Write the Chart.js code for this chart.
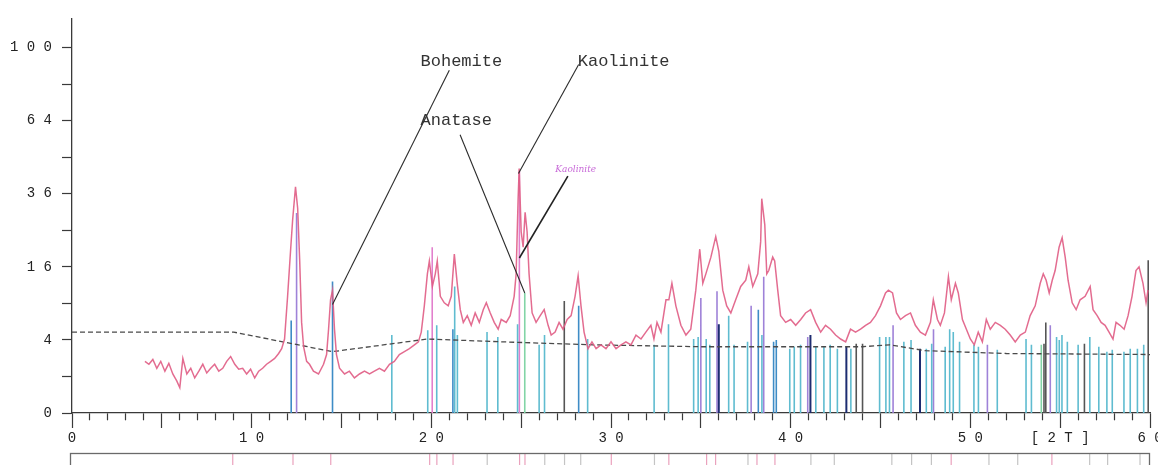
<!DOCTYPE html>
<html>
<head>
<meta charset="utf-8">
<script src="https://cdn.jsdelivr.net/npm/chart.js@4.4.1/dist/chart.umd.min.js"></script>
<style>
  html, body { margin: 0; padding: 0; background: #fff; overflow: hidden; }
  #wrap { position: relative; width: 1158px; height: 465px; overflow: hidden; background: #fff; }
  #main { position: absolute; left: 0; top: 0; }
  #strip { position: absolute; left: 0; top: 452px; }
</style>
</head>
<body>
<div id="wrap">
  <canvas id="main" width="1172" height="465"></canvas>
  <canvas id="strip" width="1172" height="40"></canvas>
</div>
<script>
// measured scan (2theta, intensity)
const scan2T = [
  4.06,4.28,4.5,4.72,4.94,5.17,5.39,5.61,5.83,6.0,
  6.17,6.39,6.61,6.83,7.06,7.28,7.5,7.72,7.94,8.17,
  8.39,8.61,8.83,9.06,9.28,9.5,9.72,9.94,10.17,10.39,
  10.61,10.83,11.06,11.28,11.5,11.67,11.83,12.0,12.17,12.28,
  12.44,12.56,12.67,12.78,12.89,13.06,13.22,13.44,13.72,14.0,
  14.17,14.28,14.39,14.5,14.61,14.72,14.89,15.17,15.44,15.72,
  16.0,16.28,16.56,16.83,17.11,17.39,17.67,17.94,18.22,18.5,
  18.78,19.06,19.28,19.44,19.61,19.78,19.89,20.06,20.22,20.33,
  20.5,20.72,20.94,21.11,21.28,21.44,21.61,21.78,22.0,22.22,
  22.44,22.67,22.89,23.06,23.28,23.5,23.72,23.89,24.17,24.39,
  24.61,24.72,24.83,24.89,25.0,25.11,25.22,25.33,25.44,25.61,
  25.83,26.06,26.28,26.5,26.67,26.89,27.11,27.33,27.56,27.78,
  28.0,28.17,28.33,28.5,28.72,28.94,29.17,29.44,29.72,30.0,
  30.28,30.56,30.83,31.11,31.39,31.67,31.94,32.22,32.39,32.56,
  32.78,33.06,33.22,33.39,33.61,33.89,34.17,34.44,34.72,34.94,
  35.11,35.28,35.56,35.83,36.0,36.22,36.44,36.67,36.94,37.22,
  37.5,37.67,37.89,38.17,38.33,38.39,38.56,38.67,38.78,39.0,
  39.11,39.28,39.44,39.72,40.0,40.28,40.56,40.83,41.11,41.39,
  41.67,41.94,42.22,42.5,42.78,43.06,43.33,43.61,43.89,44.17,
  44.44,44.72,45.0,45.28,45.44,45.67,45.89,46.11,46.39,46.67,
  46.94,47.22,47.5,47.78,47.94,48.17,48.33,48.56,48.78,48.94,
  49.17,49.33,49.56,49.78,50.0,50.22,50.44,50.67,50.89,51.11,
  51.39,51.67,51.94,52.22,52.5,52.78,53.06,53.33,53.61,53.89,
  54.06,54.22,54.39,54.56,54.72,54.94,55.11,55.28,55.44,55.67,
  55.89,56.11,56.39,56.67,56.83,57.06,57.28,57.5,57.72,57.94,
  58.11,58.33,58.56,58.78,59.0,59.22,59.39,59.61,59.78,59.89
];
const scanI = [
  2.0,1.78,2.15,1.5,2.0,1.31,1.85,1.14,0.77,0.48,
  2.23,1.14,1.5,0.92,1.31,1.78,1.2,1.5,1.78,1.31,
  1.5,2.0,2.39,1.78,1.44,1.5,1.14,1.44,0.92,1.31,
  1.5,1.78,2.0,2.23,2.65,3.1,4.1,10.2,20.1,27.9,
  38.3,31.4,17.8,6.15,3.29,2.0,1.78,1.31,1.14,1.78,
  2.56,5.26,9.6,11.3,5.26,2.56,1.5,1.14,1.31,0.92,
  1.14,1.31,1.14,1.31,1.5,1.31,1.78,2.0,2.56,2.82,
  3.1,3.48,3.79,4.9,8.6,14.5,17.3,12.0,14.5,17.3,
  10.2,9.1,8.6,10.2,18.9,12.6,8.0,6.15,7.1,5.76,
  7.5,6.15,8.0,9.1,7.5,6.15,5.26,6.55,6.15,7.1,
  10.2,14.5,34.4,44.8,24.6,20.6,30.2,24.6,14.5,7.5,
  6.15,7.1,8.0,5.76,4.55,4.9,6.15,5.26,6.55,7.1,
  10.2,14.1,8.6,4.9,3.1,3.79,3.1,3.48,3.1,3.79,
  3.1,3.48,3.79,3.48,4.55,4.1,4.9,5.76,4.1,6.15,
  4.9,9.6,9.6,12.6,8.6,5.76,4.55,5.26,11.3,20.1,
  12.6,14.5,18.2,23.3,19.6,11.3,8.6,7.5,9.6,12.0,
  13.2,16.0,12.0,14.5,22.0,34.4,26.5,14.5,15.2,18.2,
  17.3,11.3,7.1,6.15,6.55,5.76,6.55,7.5,8.0,6.15,
  4.9,5.76,5.26,4.55,4.1,3.79,5.26,4.9,5.26,5.76,
  6.15,7.1,8.6,10.8,11.3,10.8,7.5,6.55,7.1,7.5,
  5.76,4.9,4.55,6.15,9.6,6.55,5.76,7.5,13.9,9.6,
  12.6,10.8,6.55,5.26,4.1,3.48,4.9,3.79,6.55,5.26,
  6.15,5.76,5.26,4.55,3.79,4.55,4.9,7.1,8.6,12.6,
  14.5,13.2,10.8,13.2,15.2,20.6,23.0,18.2,13.2,9.1,
  8.0,9.6,10.2,12.0,8.0,7.1,6.15,5.76,4.9,4.1,
  6.15,5.76,5.26,7.1,10.2,15.2,16.0,12.6,9.1,11.3
];

// fitted background
const bg2T = [0, 9, 14.5, 19.8, 24, 29, 35, 44, 45.5, 47.5, 52, 60];
const bgI = [4.9, 4.9, 2.82, 4.1, 3.79, 3.48, 3.29, 3.29, 3.48, 2.91, 2.65, 2.56];

// reference stick patterns, grouped by colour
const cyan2T = [17.8,19.8,20.3,21.3,21.45,23.1,23.7,24.8,26.0,26.3,
  28.7,32.4,33.2,34.6,34.85,35.3,35.5,36.55,36.85,37.6,
  38.4,39.95,40.2,40.55,41.4,41.85,42.2,42.6,43.35,44.95,
  45.3,45.5,46.3,46.7,47.55,47.85,48.6,48.85,49.05,49.4,
  50.2,50.45,51.5,53.1,53.4,54.8,54.95,55.1,55.4,56.0,
  56.65,57.15,57.6,57.9,58.55,58.9,59.3,59.65];
const cyanI = [4.55,5.14,5.76,12.0,4.55,4.9,4.33,5.89,3.48,4.55,
  4.1,3.5,5.89,4.1,4.33,4.1,3.48,7.1,3.48,3.79,
  4.55,3.1,3.29,3.48,3.29,3.29,3.48,3.1,3.1,4.33,
  4.33,4.33,3.79,4.0,3.1,3.58,3.29,5.26,4.9,3.79,
  3.48,3.29,3.0,4.1,3.48,4.33,4.0,4.55,3.79,3.48,
  4.33,3.29,2.82,3.0,2.82,3.1,3.1,3.48];
const blue2T = [12.2, 14.5, 21.2, 28.2, 38.2, 39.05, 39.2];
const blueI = [6.42, 12.96, 5.26, 8.6, 8.0, 3.79, 4.0];
const navy2T = [36.0, 41.1, 43.1, 47.2];
const navyI = [5.89, 4.55, 3.29, 3.1];
const dark2T = [27.4, 43.65, 44.0, 54.1, 54.2, 56.35, 59.9];
const darkI = [9.4, 3.58, 3.58, 3.58, 6.15, 3.58, 17.5];
const violet2T = [12.5, 35.0, 35.9, 37.8, 38.5, 40.95, 45.7, 47.95, 50.95, 54.45];
const violetI = [30, 9.9, 11.1, 8.6, 13.9, 4.33, 5.76, 5.26, 3.48, 5.76];
const pink2T = [20.05, 24.9];
const pinkI = [20.6, 44];
const green2T = [25.2, 53.95];
const greenI = [10.8, 3.48];

// lower panel sticks
const lowPink2T = [9.05,12.4,14.5,20.0,20.4,21.3,25.0,25.3,30.1,33.3,35.4,35.9,38.2,39.2,49.0,54.6];
const lowGray2T = [23.2,26.4,27.5,28.4,32.5,37.7,41.2,42.5,45.7,46.8,47.9,51.1,52.7,56.7,57.7,59.5];

const yTicksShown = [0, 4, 16, 36, 64, 100];

const notes = [
  { text: 'Bohemite', x: 19.4, y: 90, from: [21.0, 88], to: [14.5, 8.8] },
  { text: 'Kaolinite', x: 28.15, y: 90, from: [28.2, 91], to: [24.85, 43] },
  { text: 'Anatase', x: 19.4, y: 62, from: [21.6, 58], to: [25.2, 10.8] }
];
const scriptNote = { text: 'Kaolinite', x: 26.9, y: 43.4, from: [27.6, 42], to: [24.9, 18] };

const spaced = (s) => String(s).split('').join(' ');

function sticks(pos, inten) {
  const d = [];
  pos.forEach((t, i) => {
    d.push({ x: t, y: 0 }, { x: t, y: Math.sqrt(inten[i]) }, { x: t, y: null });
  });
  return d;
}

function stickSet(pos, inten, color, w) {
  return {
    data: sticks(pos, inten),
    borderColor: color,
    borderWidth: w || 1.6,
    pointRadius: 0,
    spanGaps: false,
    order: 5
  };
}

const notesPlugin = {
  id: 'notes',
  afterDatasetsDraw(chart) {
    const { ctx, scales: { x, y } } = chart;
    const px = (v) => x.getPixelForValue(v);
    const py = (v) => y.getPixelForValue(Math.sqrt(v));
    ctx.save();
    ctx.strokeStyle = '#2b2b2b';
    ctx.lineWidth = 1.1;
    ctx.fillStyle = '#333';
    ctx.font = '17px "Liberation Mono", "DejaVu Sans Mono", monospace';
    ctx.textBaseline = 'alphabetic';
    notes.forEach((n) => {
      ctx.beginPath();
      ctx.moveTo(px(n.from[0]), py(n.from[1]));
      ctx.lineTo(px(n.to[0]), py(n.to[1]));
      ctx.stroke();
      ctx.fillText(n.text, px(n.x), py(n.y));
    });
    ctx.lineWidth = 1.6;
    ctx.strokeStyle = '#222';
    ctx.beginPath();
    ctx.moveTo(px(scriptNote.from[0]), py(scriptNote.from[1]));
    ctx.lineTo(px(scriptNote.to[0]), py(scriptNote.to[1]));
    ctx.stroke();
    ctx.fillStyle = '#c86ad8';
    ctx.font = 'italic 9px "DejaVu Serif", serif';
    ctx.fillText(scriptNote.text, px(scriptNote.x), py(scriptNote.y));
    ctx.restore();
  }
};

new Chart(document.getElementById('main'), {
  type: 'line',
  data: {
    datasets: [
      {
        data: scan2T.map((t, i) => ({ x: t, y: Math.sqrt(scanI[i]) })),
        borderColor: 'rgba(224, 92, 132, 0.9)',
        borderWidth: 1.5,
        pointRadius: 0,
        tension: 0,
        order: 0
      },
      {
        data: bg2T.map((t, i) => ({ x: t, y: Math.sqrt(bgI[i]) })),
        borderColor: '#4a4a4a',
        borderWidth: 1.3,
        borderDash: [5, 3],
        pointRadius: 0,
        order: 1
      },
      stickSet(cyan2T, cyanI, '#5fbcd0'),
      stickSet(blue2T, blueI, '#3e8cc6'),
      stickSet(navy2T, navyI, '#1d2c70', 2),
      stickSet(dark2T, darkI, '#555555'),
      stickSet(violet2T, violetI, '#9f82d8'),
      stickSet(pink2T, pinkI, '#e27fcd'),
      stickSet(green2T, greenI, '#82d4a6')
    ]
  },
  options: {
    responsive: false,
    animation: false,
    devicePixelRatio: 1,
    layout: { padding: { top: 8, right: 22, left: 0, bottom: 0 } },
    plugins: { legend: { display: false }, tooltip: { enabled: false } },
    scales: {
      x: {
        type: 'linear',
        min: 0,
        max: 60,
        afterFit: (s) => { s.height = 52; },
        border: { color: '#3a3a3a', width: 1.3 },
        grid: {
          drawOnChartArea: false,
          tickLength: 15,
          color: '#3a3a3a',
          tickWidth: 1.2,
          tickBorderDash: (ctx) => (ctx.tick && ctx.tick.value % 5 === 0) ? [] : [7, 30]
        },
        ticks: {
          stepSize: 1,
          autoSkip: false,
          maxRotation: 0,
          padding: 2,
          color: '#222',
          font: { family: '"Liberation Mono", "DejaVu Sans Mono", monospace', size: 14 },
          callback: (v) => {
            if (v === 55) return '[ 2 T ]';
            return v % 10 === 0 ? spaced(v) : '';
          }
        }
      },
      y: {
        type: 'linear',
        min: 0,
        max: 10.8,
        afterFit: (s) => { s.width = 72; },
        border: { color: '#3a3a3a', width: 1.3 },
        grid: { drawOnChartArea: false, tickLength: 10, color: '#3a3a3a', tickWidth: 1.2 },
        ticks: {
          stepSize: 1,
          includeBounds: false,
          padding: 10,
          color: '#222',
          font: { family: '"Liberation Mono", "DejaVu Sans Mono", monospace', size: 14 },
          callback: (v) => {
            const n = Math.round(v * v);
            return yTicksShown.includes(n) && v % 2 === 0 ? spaced(n) : '';
          }
        }
      }
    }
  },
  plugins: [notesPlugin]
});

const boxPlugin = {
  id: 'box',
  afterDatasetsDraw(chart) {
    const { ctx, chartArea: a } = chart;
    ctx.save();
    ctx.strokeStyle = '#6a6a6a';
    ctx.lineWidth = 1.3;
    ctx.strokeRect(a.left + 0.5, a.top + 0.5, a.right - a.left, 200);
    ctx.restore();
  }
};

const fullSticks = (pos) => {
  const d = [];
  pos.forEach((t) => d.push({ x: t, y: 0 }, { x: t, y: 1 }, { x: t, y: null }));
  return d;
};

new Chart(document.getElementById('strip'), {
  type: 'line',
  data: {
    datasets: [
      { data: fullSticks(lowPink2T), borderColor: '#eaa2bd', borderWidth: 1.2, pointRadius: 0, spanGaps: false },
      { data: fullSticks(lowGray2T), borderColor: '#c4c4c4', borderWidth: 1.2, pointRadius: 0, spanGaps: false }
    ]
  },
  options: {
    responsive: false,
    animation: false,
    devicePixelRatio: 1,
    layout: { padding: { top: 1, right: 23, left: 70, bottom: 0 } },
    plugins: { legend: { display: false }, tooltip: { enabled: false } },
    scales: {
      x: { type: 'linear', min: 0, max: 60, display: false },
      y: { min: 0, max: 1, display: false }
    }
  },
  plugins: [boxPlugin]
});
</script>
</body>
</html>
